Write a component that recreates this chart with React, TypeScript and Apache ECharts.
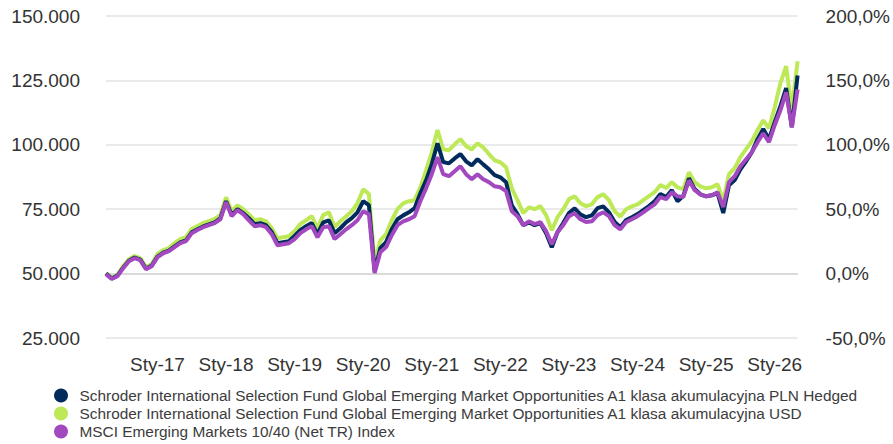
import React, { useEffect, useRef } from "react";
import * as echarts from "echarts";

// Monthly observations, Apr 2016 .. May 2026 (values in thousands, base 50.000 = 0%)
const START_YEAR = 2016;
const START_MONTH = 3; // April (0-based)
const MONTH_NAMES = ["Sty", "Lut", "Mar", "Kwi", "Maj", "Cze", "Lip", "Sie", "Wrz", "Paź", "Lis", "Gru"];

const seriesNames = [
  "Schroder International Selection Fund Global Emerging Market Opportunities A1 klasa akumulacyjna PLN Hedged",
  "Schroder International Selection Fund Global Emerging Market Opportunities A1 klasa akumulacyjna USD",
  "MSCI Emerging Markets 10/40 (Net TR) Index",
];

const plnHedged = [
  50.0, 48.1, 49.2, 52.3, 55.0, 56.2, 55.4, 51.9, 53.1,
  56.6, 58.1, 58.9, 60.6, 62.1, 62.9, 66.0, 67.2, 68.3, 69.1, 69.9, 71.4,
  78.1, 72.7, 75.0, 73.5, 71.5, 69.2, 69.6, 68.8, 66.1, 61.8, 62.2, 62.6,
  64.6, 66.9, 68.4, 69.6, 65.3, 69.9, 70.7, 65.7, 67.6, 69.9, 71.5, 73.8,
  78.1, 76.6, 51.0, 59.9, 62.2, 67.2, 71.1, 72.6, 73.8, 75.4, 81.2, 86.2,
  92.5, 100.6, 93.3, 92.8, 94.7, 96.4, 93.6, 92.0, 94.4, 92.4, 90.5, 88.2,
  87.4, 85.5, 76.5, 73.1, 68.8, 69.9, 68.8, 69.6, 65.7, 60.2, 66.1, 69.6,
  73.5, 75.3, 73.0, 71.9, 72.6, 75.4, 76.1, 73.8, 70.0, 68.0, 70.8, 71.9,
  73.1, 74.6, 76.2, 78.1, 80.9, 79.7, 82.4, 78.1, 80.1, 87.0, 82.8, 80.8,
  80.0, 80.4, 81.2, 73.5, 84.3, 86.3, 90.5, 93.6, 97.1, 102.2, 106.1, 102.2,
  108.8, 115.0, 122.0, 106.8, 126.9,
];

const usdClass = [
  50.2, 48.3, 49.4, 52.9, 55.6, 56.8, 56.0, 52.5, 53.7,
  57.6, 59.1, 59.9, 61.9, 63.4, 64.2, 67.3, 68.5, 69.6, 70.4, 71.2, 72.7,
  79.6, 74.2, 76.5, 75.0, 73.0, 70.7, 71.1, 70.3, 67.6, 63.7, 64.1, 64.5,
  66.5, 69.2, 70.7, 72.3, 67.6, 72.7, 73.8, 68.0, 70.3, 72.2, 74.2, 77.3,
  82.7, 80.9, 54.1, 62.9, 65.3, 70.7, 75.0, 77.3, 78.1, 78.5, 83.5, 90.1,
  97.1, 105.7, 98.3, 97.9, 100.2, 102.2, 99.5, 98.2, 100.6, 99.0, 96.4, 94.0,
  93.2, 91.3, 83.1, 78.5, 73.5, 75.7, 75.0, 76.2, 72.7, 66.8, 71.9, 75.0,
  78.9, 80.0, 77.3, 76.2, 76.9, 79.7, 80.8, 78.5, 74.2, 72.2, 75.0, 76.1,
  76.9, 78.5, 80.1, 81.6, 84.4, 83.2, 85.5, 83.5, 82.8, 89.3, 85.5, 83.9,
  83.1, 83.5, 84.7, 78.1, 88.6, 90.9, 95.2, 98.3, 101.4, 105.7, 109.5, 106.4,
  114.6, 123.9, 130.5, 113.4, 132.4,
];

const msciIndex = [
  49.8, 47.9, 49.0, 52.1, 54.8, 56.0, 55.2, 51.7, 52.9,
  56.4, 57.9, 58.7, 60.3, 61.8, 62.6, 65.7, 66.9, 68.0, 68.8, 69.6, 71.1,
  77.7, 72.3, 74.6, 73.1, 70.7, 68.4, 68.8, 68.0, 65.3, 61.0, 61.4, 61.8,
  63.4, 65.7, 67.2, 68.4, 64.1, 68.0, 68.4, 63.4, 65.3, 67.2, 68.8, 70.7,
  74.2, 73.1, 50.2, 58.3, 60.3, 64.9, 68.8, 70.3, 71.1, 72.3, 78.1, 83.1,
  88.6, 95.2, 88.6, 87.8, 89.7, 91.7, 88.6, 86.6, 88.6, 86.6, 85.5, 83.9,
  83.5, 82.0, 74.2, 72.3, 68.8, 70.3, 69.2, 70.0, 66.5, 61.4, 66.1, 68.8,
  72.3, 73.4, 71.1, 70.0, 70.3, 72.7, 73.8, 72.3, 68.8, 67.2, 70.0, 71.1,
  72.3, 73.8, 75.4, 76.9, 79.7, 78.9, 81.6, 80.0, 79.7, 86.2, 82.4, 80.8,
  80.0, 80.4, 81.6, 75.8, 85.5, 87.8, 91.7, 94.4, 97.1, 101.0, 104.5, 101.0,
  107.6, 113.4, 120.4, 106.8, 121.5,
];

const leftTicks = [25, 50, 75, 100, 125, 150];
const rightTicks = [-50, 0, 50, 100, 150, 200];

const colors = ["#002b5c", "#bce955", "#a349c0"];

function buildCategories(n: number): string[] {
  const out: string[] = [];
  for (let i = 0; i < n; i++) {
    const m = (START_MONTH + i) % 12;
    const y = START_YEAR + Math.floor((START_MONTH + i) / 12);
    out.push(MONTH_NAMES[m] + "-" + String(y).slice(2));
  }
  return out;
}

export default function App() {
  const ref = useRef<HTMLDivElement>(null);
  useEffect(() => {
    if (!ref.current) return;
    document.body.style.margin = "0";
    const chart = echarts.init(ref.current, null, { renderer: "svg" });
    const categories = buildCategories(msciIndex.length);
    const font = "Liberation Sans, Arial, sans-serif";
    chart.setOption({
      animation: false,
      textStyle: { fontFamily: font },
      grid: { left: 106, right: 94, top: 16, bottom: 106, containLabel: false },
      legend: {
        orient: "vertical",
        left: 49,
        top: 383,
        height: 61,
        padding: [5, 0, 0, 5],
        itemGap: 3,
        itemWidth: 27,
        itemHeight: 14,
        icon: "circle",
        data: seriesNames,
        textStyle: { fontSize: 15.4, color: "#3c3c3c", fontFamily: font },
      },
      xAxis: {
        type: "category",
        data: categories,
        boundaryGap: false,
        axisLine: { show: true, lineStyle: { color: "#d3d3d3", width: 1.5 } },
        axisTick: { show: false },
        axisLabel: {
          interval: (index: number, value: string) => value.startsWith("Sty"),
          fontSize: 19,
          color: "#333",
          margin: 17,
          fontFamily: font,
        },
        splitLine: { show: false },
      },
      yAxis: [
        {
          type: "value",
          min: leftTicks[0],
          max: leftTicks[leftTicks.length - 1],
          interval: 25,
          position: "left",
          axisLine: { show: false },
          axisTick: { show: false },
          axisLabel: {
            formatter: (v: number) => v + ".000",
            fontSize: 19,
            color: "#333",
            margin: 26,
            fontFamily: font,
          },
          splitLine: { show: true, lineStyle: { color: "#e3e3e3", width: 1.5 } },
        },
        {
          type: "value",
          min: rightTicks[0],
          max: rightTicks[rightTicks.length - 1],
          interval: 50,
          position: "right",
          axisLine: { show: false },
          axisTick: { show: false },
          axisLabel: {
            formatter: (v: number) => v.toFixed(1).replace(".", ",") + "%",
            fontSize: 19,
            color: "#333",
            margin: 28,
            fontFamily: font,
          },
          splitLine: { show: false },
        },
      ],
      series: [
        {
          name: seriesNames[1],
          type: "line",
          data: usdClass,
          yAxisIndex: 0,
          symbol: "none",
          lineStyle: { width: 4, color: colors[1] },
          itemStyle: { color: colors[1] },
          z: 2,
        },
        {
          name: seriesNames[0],
          type: "line",
          data: plnHedged,
          yAxisIndex: 0,
          symbol: "none",
          lineStyle: { width: 4, color: colors[0] },
          itemStyle: { color: colors[0] },
          z: 3,
        },
        {
          name: seriesNames[2],
          type: "line",
          data: msciIndex,
          yAxisIndex: 0,
          symbol: "none",
          lineStyle: { width: 4, color: colors[2] },
          itemStyle: { color: colors[2] },
          z: 4,
        },
      ],
    });
    return () => chart.dispose();
  }, []);
  return <div ref={ref} style={{ width: 893, height: 444 }} />;
}
